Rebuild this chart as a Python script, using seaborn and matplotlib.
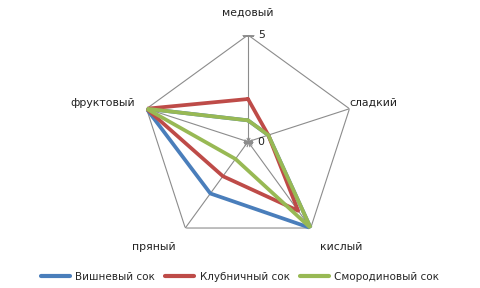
import numpy as np
import pandas as pd
import matplotlib
matplotlib.use("Agg")
import matplotlib.pyplot as plt
import seaborn as sns

categories = ["медовый", "сладкий", "кислый", "пряный", "фруктовый"]
series_names = ["Вишневый сок", "Клубничный сок", "Смородиновый сок"]
cherry = [1, 1, 5, 3, 5]
strawberry = [2, 1, 4, 2, 5]
currant = [1, 1, 5, 1, 5]
colors = ["#4A7EBB", "#BE4B48", "#98B954"]
r_max = 5

sns.set_theme(style="white")
plt.rcParams["font.family"] = ["DejaVu Sans"]

n = len(categories)
theta = np.arange(n) * 2 * np.pi / n
rows = []
for name, vals in zip(series_names, [cherry, strawberry, currant]):
    for i in range(n + 1):
        rows.append({"theta": (theta[i % n] if i < n else 2 * np.pi),
                     "r": vals[i % n], "series": name})
df = pd.DataFrame(rows)

W, H = 480, 288
fig = plt.figure(figsize=(W / 100, H / 100), dpi=100)
cx, cy, rad = 248, 141.7, 106.7
ax = fig.add_axes([(cx - rad) / W, (H - cy - rad) / H, 2 * rad / W, 2 * rad / H],
                  projection="polar")
ax.set_theta_offset(np.pi / 2)
ax.set_theta_direction(-1)
ax.set_ylim(0, r_max)
ax.grid(False)
ax.spines["polar"].set_visible(False)
ax.set_xticks([])
ax.set_yticks([])
ax.set_facecolor("none")

gc = "#8c8c8c"
ring_t = list(theta) + [theta[0]]
ax.plot(ring_t, [r_max] * (n + 1), color=gc, lw=0.8, zorder=1)
for t in theta:
    ax.plot([t, t], [0, r_max], color=gc, lw=0.8, zorder=1)
    ax.plot([t], [0], marker=(2, 0, -np.degrees(t) + 90), ms=7, color=gc, mew=0.8, zorder=1)
ax.plot([0], [r_max], marker="_", ms=8, color=gc, mew=0.8, zorder=1)

sns.lineplot(data=df, x="theta", y="r", hue="series", sort=False, estimator=None,
             palette=dict(zip(series_names, colors)), linewidth=2.7, ax=ax, legend=True,
             zorder=3)
ax.set_xlabel("")
ax.set_ylabel("")
handles, labels = ax.get_legend_handles_labels()
if ax.get_legend() is not None:
    ax.get_legend().remove()

ax.annotate("5", xy=(0, r_max), xytext=(7, 0), textcoords="offset points",
            fontsize=7.8, va="center", ha="left", color="#222222")
ax.annotate("0", xy=(0, 0), xytext=(7, 0), textcoords="offset points",
            fontsize=7.8, va="center", ha="left", color="#222222")

label_pos = [(248, 13, "center"), (349, 103, "left"), (320, 247, "left"),
             (176, 247, "right"), (135, 103, "right")]
for lab, (px, py, ha) in zip(categories, label_pos):
    fig.text(px / W, 1 - py / H, lab, ha=ha, va="center", fontsize=7.8, color="#222222")

for h in handles:
    h.set_linewidth(3)
fig.legend(handles, labels, loc="center", bbox_to_anchor=(0.5, 1 - 277 / H), ncol=3,
           frameon=False, fontsize=7.5, handlelength=2.8, columnspacing=1.0,
           handletextpad=0.5)

fig.savefig("out.png", dpi=100, facecolor="white")
